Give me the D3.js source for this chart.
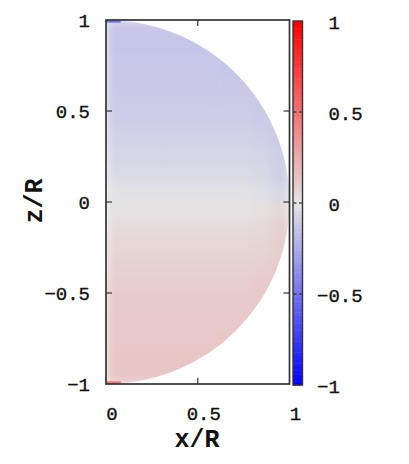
<!DOCTYPE html>
<html lang="en">
<head>
    <meta charset="UTF-8">
    <title>half sphere map</title>
    <script src="https://d3js.org/d3.v7.min.js"></script>
    <style>
      body { margin: 0; background: #fff; }
      text { font-family: "Liberation Mono", "DejaVu Sans Mono", monospace; fill: #111; }
      .tick-label { stroke: #111; stroke-width: 0.35; }
    </style>
</head>
<body>
    <svg id="chart" width="409" height="464"></svg>
    <script>
      // grid of the map: x/R column edges, z/R row edges (top to bottom)
      const xEdges = [0, 0.3, 0.6, 0.8, 0.9, 1.0];
      const zEdges = [1, 0.9, 0.8, 0.7, 0.6, 0.5, 0.4, 0.3, 0.2, 0.1, 0,
                      -0.1, -0.2, -0.3, -0.4, -0.5, -0.6, -0.7, -0.8, -0.9, -1];

      // one row per z band, one value per x band
      const fieldValues = [
        [-0.13, -0.13, -0.13, -0.13, -0.13],
        [-0.13, -0.13, -0.13, -0.13, -0.13],
        [-0.12, -0.12, -0.13, -0.13, -0.13],
        [-0.12, -0.12, -0.12, -0.13, -0.13],
        [-0.11, -0.11, -0.11, -0.12, -0.13],
        [-0.10, -0.10, -0.10, -0.11, -0.12],
        [-0.08, -0.08, -0.08, -0.09, -0.11],
        [-0.06, -0.06, -0.06, -0.07, -0.10],
        [-0.04, -0.04, -0.04, -0.05, -0.09],
        [-0.01, -0.01, -0.01, -0.02, -0.05],
        [0.01, 0.01, 0.01, 0.02, 0.05],
        [0.04, 0.04, 0.04, 0.05, 0.09],
        [0.06, 0.06, 0.06, 0.07, 0.10],
        [0.08, 0.08, 0.08, 0.09, 0.11],
        [0.10, 0.10, 0.10, 0.11, 0.12],
        [0.11, 0.11, 0.11, 0.12, 0.13],
        [0.12, 0.12, 0.12, 0.13, 0.13],
        [0.12, 0.12, 0.13, 0.13, 0.13],
        [0.13, 0.13, 0.13, 0.13, 0.13],
        [0.13, 0.13, 0.13, 0.13, 0.13]
      ];

      // small strong spots at the poles on the axis: [x0, x1, z0, z1, value]
      const poleSpots = [
        [0, 0.08, 1.0, 0.985, -0.6],
        [0, 0.08, -0.985, -1.0, 0.6]
      ];

      const xTicks = [0, 0.5, 1];
      const zTicks = [-1, -0.5, 0, 0.5, 1];
      const cbTicks = [-1, -0.5, 0, 0.5, 1];

      const svg = d3.select("#chart");

      const x = d3.scaleLinear().domain([0, 1]).range([106, 289.5]);
      const y = d3.scaleLinear().domain([-1, 1]).range([384, 20]);
      const cb = d3.scaleLinear().domain([-1, 1]).range([385, 21]);

      const color = d3.scaleLinear()
        .domain([-1, 0, 1])
        .range(["#0000ff", "#e4e4e4", "#ff0000"]);

      const defs = svg.append("defs");

      // half disc r/R <= 1, x >= 0
      const rim = d3.range(0, 181, 2).map(a => {
        const t = a * Math.PI / 180;
        return [x(Math.sin(t)), y(Math.cos(t))];
      });
      defs.append("clipPath").attr("id", "disc")
        .append("path")
        .attr("d", d3.line()(rim) + "Z");

      // soften the cell edges like a smooth pm3d map
      defs.append("filter").attr("id", "soft")
        .attr("x", "-5%").attr("y", "-5%").attr("width", "110%").attr("height", "110%")
        .append("feGaussianBlur").attr("stdDeviation", 4).attr("edgeMode", "duplicate");

      const cells = [];
      fieldValues.forEach((row, i) => {
        row.forEach((v, j) => {
          cells.push({ x0: xEdges[j], x1: xEdges[j + 1], z0: zEdges[i], z1: zEdges[i + 1], v: v });
        });
      });

      const field = svg.append("g").attr("clip-path", "url(#disc)");

      field.append("g").attr("filter", "url(#soft)")
        .selectAll("rect")
        .data(cells)
        .join("rect")
        .attr("x", d => x(d.x0))
        .attr("y", d => y(d.z0))
        .attr("width", d => x(d.x1) - x(d.x0) + 0.5)
        .attr("height", d => y(d.z1) - y(d.z0) + 0.5)
        .attr("fill", d => color(d.v));

      field.append("g")
        .selectAll("rect")
        .data(poleSpots)
        .join("rect")
        .attr("x", d => x(d[0]))
        .attr("y", d => y(d[2]))
        .attr("width", d => x(d[1]) - x(d[0]))
        .attr("height", d => y(d[3]) - y(d[2]))
        .attr("fill", d => color(d[4]))
        .attr("opacity", 0.8);

      // frame and ticks
      const frame = "#333";
      svg.append("rect")
        .attr("x", x(0)).attr("y", y(1))
        .attr("width", x(1) - x(0)).attr("height", y(-1) - y(1))
        .attr("fill", "none").attr("stroke", frame).attr("stroke-width", 1.7);

      const tk = svg.append("g").attr("stroke", frame).attr("stroke-width", 1.2);
      zTicks.slice(1, -1).forEach(v => {
        tk.append("line").attr("x1", x(0)).attr("x2", x(0) + 6).attr("y1", y(v)).attr("y2", y(v));
        tk.append("line").attr("x1", x(1)).attr("x2", x(1) - 6).attr("y1", y(v)).attr("y2", y(v));
      });
      xTicks.slice(1, -1).forEach(v => {
        tk.append("line").attr("x1", x(v)).attr("x2", x(v)).attr("y1", y(1)).attr("y2", y(1) + 6);
        tk.append("line").attr("x1", x(v)).attr("x2", x(v)).attr("y1", y(-1)).attr("y2", y(-1) - 6);
      });

      const fmt = v => (v < 0 ? "\u2212" : "") + Math.abs(v);

      svg.append("g").selectAll("text")
        .data(zTicks)
        .join("text")
        .attr("class", "tick-label")
        .attr("x", 90)
        .attr("y", d => y(d) + 7)
        .attr("text-anchor", "end")
        .attr("font-size", 19)
        .text(fmt);

      svg.append("g").selectAll("text")
        .data(xTicks)
        .join("text")
        .attr("class", "tick-label")
        .attr("x", d => x(d) + 6)
        .attr("y", 420)
        .attr("text-anchor", "middle")
        .attr("font-size", 19)
        .text(fmt);

      svg.append("text")
        .attr("x", 197).attr("y", 447)
        .attr("text-anchor", "middle")
        .attr("font-size", 25).attr("font-weight", "bold")
        .text("x/R");

      svg.append("text")
        .attr("transform", "translate(42,201) rotate(-90)")
        .attr("text-anchor", "middle")
        .attr("font-size", 25).attr("font-weight", "bold")
        .text("z/R");

      // colour bar
      const cbX = 293, cbW = 9.5;
      const steps = d3.range(-1, 1, 0.02);
      svg.append("g").selectAll("rect")
        .data(steps)
        .join("rect")
        .attr("x", cbX)
        .attr("y", d => cb(d + 0.02))
        .attr("width", cbW)
        .attr("height", d => cb(d) - cb(d + 0.02) + 0.5)
        .attr("fill", d => color(d + 0.01));

      svg.append("rect")
        .attr("x", cbX).attr("y", cb(1))
        .attr("width", cbW).attr("height", cb(-1) - cb(1))
        .attr("fill", "none").attr("stroke", frame).attr("stroke-width", 1.4);

      const cbt = svg.append("g").attr("stroke", frame).attr("stroke-width", 1.2);
      cbTicks.slice(1, -1).forEach(v => {
        cbt.append("line").attr("x1", cbX).attr("x2", cbX + 3.5).attr("y1", cb(v)).attr("y2", cb(v));
        cbt.append("line").attr("x1", cbX + cbW).attr("x2", cbX + cbW - 3.5).attr("y1", cb(v)).attr("y2", cb(v));
      });

      svg.append("g").selectAll("text")
        .data(cbTicks)
        .join("text")
        .attr("class", "tick-label")
        .attr("x", 317)
        .attr("y", d => cb(d) + 8)
        .attr("font-size", 19)
        .style("white-space", "pre")
        .text(d => (d < 0 ? "\u2212" : " ") + Math.abs(d));
    </script>
</body>
</html>
